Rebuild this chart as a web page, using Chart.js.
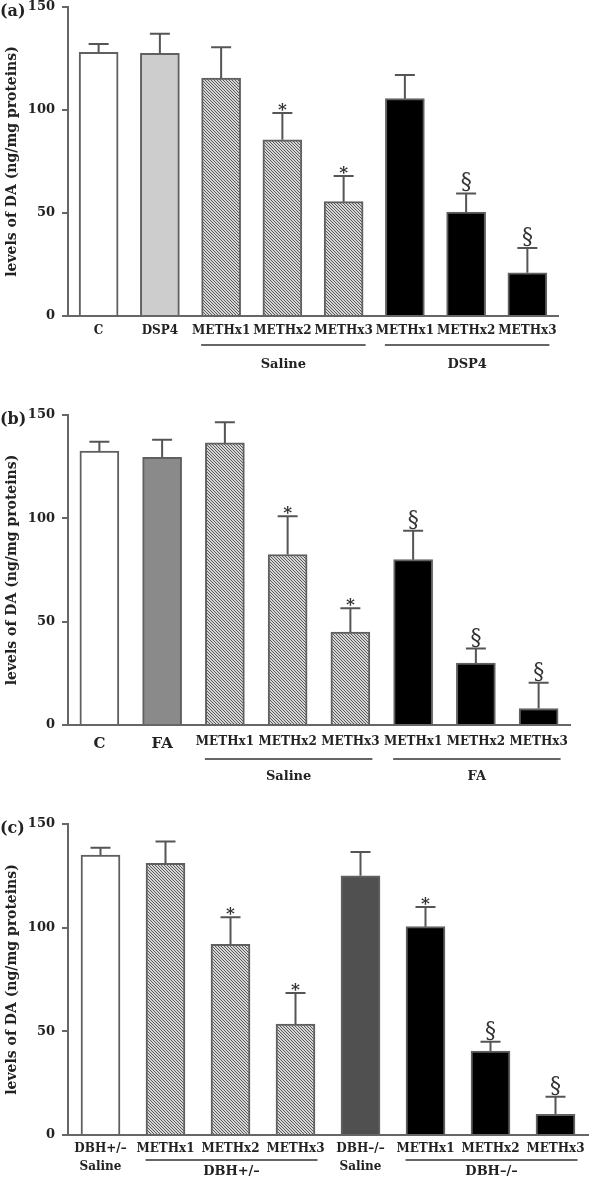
<!DOCTYPE html>
<html>
<head>
<meta charset="utf-8">
<script src="https://cdn.jsdelivr.net/npm/chart.js@4.4.1/dist/chart.umd.min.js"></script>
<style>
  body { margin: 0; background: #fff; width: 600px; height: 1179px; overflow: hidden; position: relative; }
  canvas { position: absolute; left: 0; }
</style>
</head>
<body>
<canvas id="chartA" width="600" height="400" style="top:-8px"></canvas>
<canvas id="chartB" width="600" height="392" style="top:400px"></canvas>
<canvas id="chartC" width="600" height="379" style="top:800px"></canvas>
<script>
// panel (a) data
const labelsA = ["C", "DSP4", "METHx1", "METHx2", "METHx3", "METHx1", "METHx2", "METHx3"];
const meansA = [128, 127.5, 115.5, 85.5, 55.5, 105.5, 50.5, 21];
const semA = [4, 9.5, 15, 13, 12.5, 11.5, 9, 12];
const marksA = ["", "", "", "*", "*", "", "§", "§"];
const groupsA = [["Saline", 2, 4], ["DSP4", 5, 7]];

// panel (b) data
const labelsB = ["C", "FA", "METHx1", "METHx2", "METHx3", "METHx1", "METHx2", "METHx3"];
const meansB = [132.5, 129.5, 136.5, 82.5, 45, 80, 30, 8];
const semB = [4.5, 8.5, 10, 18.5, 11.5, 14, 7, 12.5];
const marksB = ["", "", "", "*", "*", "§", "§", "§"];
const groupsB = [["Saline", 2, 4], ["FA", 5, 7]];

// panel (c) data
const labelsC = [["DBH+/–", "Saline"], "METHx1", "METHx2", "METHx3", ["DBH–/–", "Saline"], "METHx1", "METHx2", "METHx3"];
const meansC = [135, 131, 92, 53.5, 125, 100.5, 40.5, 10];
const semC = [3.5, 10.5, 13, 15, 11.5, 9.5, 4.5, 8.5];
const marksC = ["", "", "*", "*", "", "*", "§", "§"];
const groupsC = [["DBH+/–", 1, 3], ["DBH–/–", 5, 7]];

const yTicks = [0, 50, 100, 150];
const yTitle = "levels of DA (ng/mg proteins)";

const SERIF = "'DejaVu Serif', serif";
const AXIS = "#666";

// diagonal hatch for the saline METH bars
function makeHatch() {
  const c = document.createElement("canvas");
  c.width = 6; c.height = 6;
  const g = c.getContext("2d");
  g.fillStyle = "#d6d6d6";
  g.fillRect(0, 0, 6, 6);
  g.strokeStyle = "#5a5a5a";
  g.lineWidth = 1;
  for (let k = -2; k <= 2; k++) {
    g.beginPath();
    g.moveTo(0, k * 3);
    g.lineTo(6, k * 3 + 6);
    g.stroke();
  }
  return g.createPattern(c, "repeat");
}
const hatch = makeHatch();

// error bars, significance marks, group underlines, panel tag
const extras = {
  id: "extras",
  afterDatasetsDraw(chart, args, opts) {
    const ctx = chart.ctx;
    const xs = chart.scales.x, ys = chart.scales.y;
    const vals = chart.data.datasets[0].data;
    ctx.save();
    ctx.strokeStyle = "#555";
    ctx.lineWidth = 2;
    vals.forEach((v, i) => {
      const px = xs.getPixelForValue(i);
      const top = ys.getPixelForValue(v);
      const end = ys.getPixelForValue(v + opts.sem[i]);
      ctx.beginPath();
      ctx.moveTo(px, top);
      ctx.lineTo(px, end);
      ctx.moveTo(px - 10, end);
      ctx.lineTo(px + 10, end);
      ctx.stroke();
      const m = opts.marks[i];
      ctx.fillStyle = "#333";
      ctx.textAlign = "center";
      ctx.textBaseline = "alphabetic";
      if (m == "*") {
        ctx.font = "bold 17px " + SERIF;
        ctx.fillText(m, px, end + 2);
      } else if (m == "§") {
        ctx.font = "22px " + SERIF;
        ctx.fillText(m, px, end - 5);
      }
    });
    // group lines under the axis
    const base = chart.chartArea.bottom;
    ctx.strokeStyle = "#666";
    ctx.lineWidth = 2;
    ctx.fillStyle = "#222";
    ctx.font = "bold 13px " + SERIF;
    ctx.textBaseline = "middle";
    opts.groups.forEach((g) => {
      const x0 = xs.getPixelForValue(g[1]) - 20;
      const x1 = xs.getPixelForValue(g[2]) + 22;
      ctx.beginPath();
      ctx.moveTo(x0, base + opts.lineOff);
      ctx.lineTo(x1, base + opts.lineOff);
      ctx.stroke();
      ctx.fillText(g[0], (x0 + x1) / 2, base + opts.textOff);
    });
    // panel tag
    ctx.font = "bold 16px " + SERIF;
    ctx.textAlign = "left";
    ctx.fillText(opts.tag, 0, chart.chartArea.top + 5);
    ctx.restore();
  },
};

function makePanel(id, p) {
  const ctx = document.getElementById(id).getContext("2d");
  return new Chart(ctx, {
    type: "bar",
    data: {
      labels: p.labels,
      datasets: [
        {
          data: p.means,
          backgroundColor: p.fills,
          borderColor: "#606060",
          borderWidth: 2,
          barThickness: 39,
        },
      ],
    },
    options: {
      responsive: false,
      animation: false,
      events: [],
      layout: { padding: { top: p.top, right: p.right, left: 0, bottom: 0 } },
      plugins: {
        legend: { display: false },
        tooltip: { enabled: false },
        extras: {
          sem: p.sem,
          marks: p.marks,
          groups: p.groups,
          tag: p.tag,
          lineOff: p.lineOff,
          textOff: p.textOff,
        },
      },
      scales: {
        x: {
          grid: { display: false },
          border: { display: true, color: AXIS, width: 2 },
          ticks: {
            autoSkip: false,
            maxRotation: 0,
            padding: p.tickPad,
            color: "#222",
            font: p.tickFont,
          },
          afterFit: (s) => { s.height = p.xHeight; },
        },
        y: {
          min: 0,
          max: 150,
          afterBuildTicks: (s) => { s.ticks = yTicks.map((v) => ({ value: v })); },
          grid: { drawOnChartArea: false, drawTicks: true, tickLength: 6, color: AXIS, lineWidth: 2 },
          border: { display: true, color: AXIS, width: 2 },
          ticks: { padding: 7, color: "#222", font: { family: SERIF, size: 13, weight: "bold" } },
          title: {
            display: true,
            text: yTitle,
            color: "#222",
            font: { family: SERIF, size: 14, weight: "bold" },
          },
          afterFit: (s) => { s.width = 68; },
        },
      },
    },
    plugins: [extras],
  });
}

const W = "#ffffff", K = "#000000";

makePanel("chartA", {
  labels: labelsA, means: meansA, sem: semA, marks: marksA, groups: groupsA, tag: "(a)",
  fills: [W, "#cdcdcd", hatch, hatch, hatch, K, K, K],
  top: 15, right: 42, xHeight: 76, tickPad: 0, lineOff: 29, textOff: 49,
  tickFont: { family: SERIF, size: 12, weight: "bold" },
});

makePanel("chartB", {
  labels: labelsB, means: meansB, sem: semB, marks: marksB, groups: groupsB, tag: "(b)",
  fills: [W, "#8a8a8a", hatch, hatch, hatch, K, K, K],
  top: 15, right: 30, xHeight: 67, tickPad: 2, lineOff: 34, textOff: 52,
  tickFont: (c) => ({ family: SERIF, size: c.index < 2 ? 15 : 12, weight: "bold" }),
});

makePanel("chartC", {
  labels: labelsC, means: meansC, sem: semC, marks: marksC, groups: groupsC, tag: "(c)",
  fills: [W, hatch, hatch, hatch, "#505050", K, K, K],
  top: 24, right: 12, xHeight: 44, tickPad: -3, lineOff: 25, textOff: 37,
  tickFont: { family: SERIF, size: 12, weight: "bold", lineHeight: 1.5 },
});
</script>
</body>
</html>
